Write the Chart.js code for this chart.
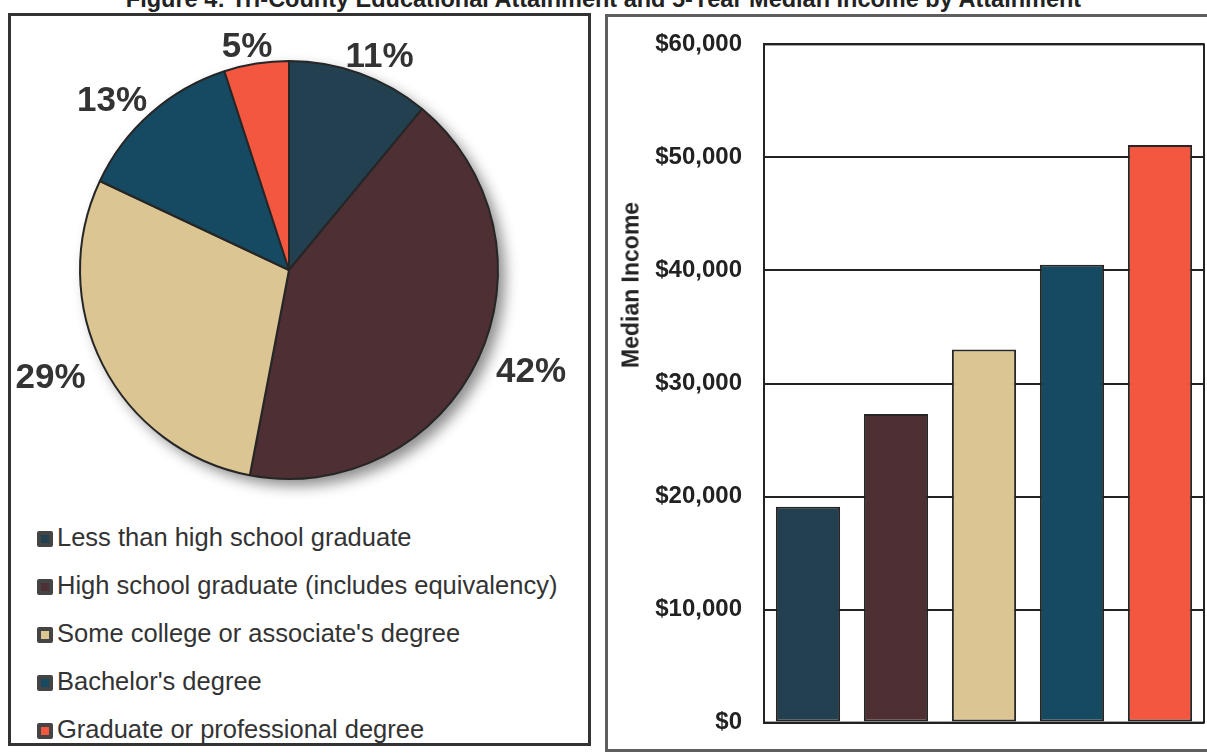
<!DOCTYPE html>
<html>
<head>
<meta charset="utf-8">
<script src="https://cdn.jsdelivr.net/npm/chart.js@4.4.1/dist/chart.umd.min.js"></script>
<style>
    body { margin: 0; width: 1207px; height: 753px; overflow: hidden; background: #fff; font-family: "Liberation Sans", Arial, sans-serif; position: relative; }
    #titulo { position: absolute; left: 0; top: -12px; width: 1207px; text-align: center; font-weight: bold; font-size: 23.5px; line-height: 23px; color: #222; white-space: nowrap; }
    .panel { position: absolute; box-sizing: border-box; }
    #panel-pie { left: 8px; top: 13px; width: 583px; height: 733px; border: 3px solid #333; }
    #panel-bar { left: 605px; top: 14px; width: 620px; height: 738px; border: 3px solid #5e5e5e; }
    #chart-pie { position: absolute; left: 10px; top: 15px; }
    #chart-bar { position: absolute; left: 608px; top: 8px; }
    #y-title { position: absolute; left: 631px; top: 285px; transform: translate(-50%, -50%) rotate(-90deg); font-weight: bold; font-size: 23px; color: #222; white-space: nowrap; }
    #pie-legend { position: absolute; left: 37px; top: 520px; margin: 0; padding: 0; list-style: none; }
    #pie-legend li { height: 48px; line-height: 34px; font-size: 25.5px; color: #333; white-space: nowrap; }
    #pie-legend .caja { display: inline-block; width: 8px; height: 8px; border: 4px solid #444; border-radius: 2px; margin-right: 4px; vertical-align: -1px; }
</style>
</head>
<body>
<div id="titulo">Figure 4: Tri-County Educational Attainment and 5-Year Median Income by Attainment</div>
<div class="panel" id="panel-pie"></div>
<div class="panel" id="panel-bar"></div>
<canvas id="chart-pie" width="578" height="490"></canvas>
<ul id="pie-legend"></ul>
<canvas id="chart-bar" width="599" height="751"></canvas>
<div id="y-title">Median Income</div>

<script>
const categorias = [
    'Less than high school graduate',
    'High school graduate (includes equivalency)',
    "Some college or associate's degree",
    "Bachelor's degree",
    'Graduate or professional degree'
];
const porcentajes = [11, 42, 29, 13, 5];
const ingresoMediano = [19100, 27300, 33000, 40500, 51100];
const ticksIngreso = [0, 10000, 20000, 30000, 40000, 50000, 60000];
const colores = ['#22404f', '#4e2f33', '#dbc592', '#164a62', '#f4573f'];

const fuente = '"Liberation Sans", Arial, sans-serif';

// sombra suave detras del pastel
const sombraPie = {
    id: 'sombraPie',
    beforeDatasetsDraw(chart) {
        const ctx = chart.ctx;
        const arc = chart.getDatasetMeta(0).data[0];
        const { x, y, outerRadius } = arc.getProps(['x', 'y', 'outerRadius'], true);
        ctx.save();
        ctx.shadowColor = 'rgba(0, 0, 0, 0.45)';
        ctx.shadowBlur = 14;
        ctx.shadowOffsetX = 7;
        ctx.shadowOffsetY = 7;
        ctx.beginPath();
        ctx.arc(x, y, outerRadius, 0, Math.PI * 2);
        ctx.fillStyle = '#777';
        ctx.fill();
        ctx.restore();
    }
};

// porcentajes fuera de cada rebanada (un poco mas lejos a los lados que arriba)
const etiquetasPie = {
    id: 'etiquetasPie',
    afterDatasetsDraw(chart) {
        const ctx = chart.ctx;
        const meta = chart.getDatasetMeta(0);
        ctx.save();
        ctx.font = 'bold 35px ' + fuente;
        ctx.fillStyle = '#333';
        ctx.textAlign = 'center';
        ctx.textBaseline = 'middle';
        meta.data.forEach((arc, i) => {
            const { x, y, startAngle, endAngle, outerRadius } =
                arc.getProps(['x', 'y', 'startAngle', 'endAngle', 'outerRadius'], true);
            const medio = (startAngle + endAngle) / 2;
            const rx = outerRadius * 1.28;
            const ry = outerRadius * 1.1;
            ctx.fillText(porcentajes[i] + '%', x + Math.cos(medio) * rx, y + 4 + Math.sin(medio) * ry);
        });
        ctx.restore();
    }
};

// marco del area de la grafica de barras
const marcoBarras = {
    id: 'marcoBarras',
    afterDatasetsDraw(chart) {
        const { ctx, chartArea } = chart;
        ctx.save();
        ctx.strokeStyle = '#222';
        ctx.lineWidth = 2;
        ctx.strokeRect(chartArea.left, chartArea.top, chartArea.width, chartArea.height);
        ctx.restore();
    }
};

const chartPie = new Chart(document.getElementById('chart-pie').getContext('2d'), {
    type: 'pie',
    data: {
        labels: categorias,
        datasets: [{
            data: porcentajes,
            backgroundColor: colores,
            borderColor: '#262626',
            borderWidth: 2
        }]
    },
    options: {
        responsive: false,
        animation: false,
        layout: { padding: { left: 69, right: 89, top: 45, bottom: 25 } },
        plugins: {
            legend: { display: false },
            tooltip: { enabled: false }
        }
    },
    plugins: [sombraPie, etiquetasPie]
});

// leyenda en HTML, una categoria por renglon
const ul = document.getElementById('pie-legend');
chartPie.options.plugins.legend.labels.generateLabels(chartPie).forEach(item => {
    const li = document.createElement('li');
    const caja = document.createElement('span');
    caja.className = 'caja';
    caja.style.background = item.fillStyle;
    li.appendChild(caja);
    li.appendChild(document.createTextNode(item.text));
    ul.appendChild(li);
});

new Chart(document.getElementById('chart-bar').getContext('2d'), {
    type: 'bar',
    data: {
        labels: categorias,
        datasets: [{
            data: ingresoMediano,
            backgroundColor: colores,
            borderColor: '#262626',
            borderWidth: 2,
            borderSkipped: false,
            barPercentage: 0.73,
            categoryPercentage: 1
        }]
    },
    options: {
        responsive: false,
        animation: false,
        layout: { padding: { left: 0, right: 3, top: 5, bottom: 0 } },
        plugins: {
            legend: { display: false },
            tooltip: { enabled: false }
        },
        scales: {
            x: { display: false },
            y: {
                min: 0,
                max: 60000,
                afterBuildTicks: scale => { scale.ticks = ticksIngreso.map(v => ({ value: v })); },
                afterFit: scale => { scale.width = 156; },
                ticks: {
                    padding: 22,
                    color: '#222',
                    font: { family: fuente, size: 24, weight: 'bold' },
                    callback: v => '$' + v.toLocaleString('en-US')
                },
                grid: { color: '#222', lineWidth: 2, drawTicks: false },
                border: { color: '#222', width: 2 }
            }
        }
    },
    plugins: [marcoBarras]
});
</script>
</body>
</html>
